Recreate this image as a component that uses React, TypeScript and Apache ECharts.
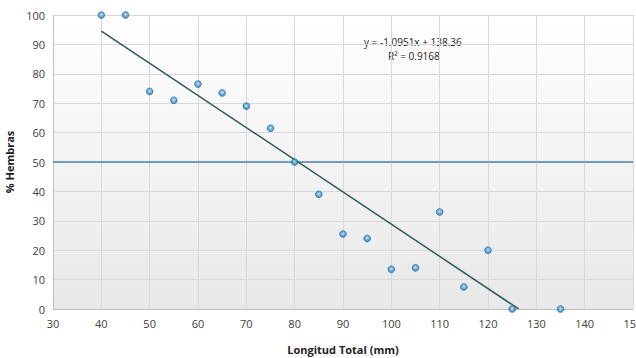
import React, { useEffect, useRef } from "react";
import * as echarts from "echarts";

const longitud = [40, 45, 50, 55, 60, 65, 70, 75, 80, 85, 90, 95, 100, 105, 110, 115, 120, 125, 135];
const hembras = [100, 100, 74, 71, 76.5, 73.5, 69, 61.5, 50, 39, 25.5, 24, 13.5, 14, 33, 7.5, 20, 0, 0];
const slope = -1.0951;
const intercept = 138.36;
const trendX = [40, 126.34];
const refLineY = 50;
const xTicks = { min: 30, max: 150, interval: 10 };
const yTicks = { min: 0, max: 100, interval: 10 };
const eqText = "y = -1.0951x + 138.36";
const r2Text = "R² = 0.9168";

export default function App() {
  const ref = useRef<HTMLDivElement>(null);
  useEffect(() => {
    const chart = echarts.init(ref.current!, null, { renderer: "svg" });
    const font = "'Open Sans', 'Liberation Sans', sans-serif";
    chart.setOption({
      animation: false,
      backgroundColor: "#ffffff",
      grid: {
        left: 53,
        right: 3,
        top: 15,
        bottom: 49,
        containLabel: false,
        outerBoundsMode: "none",
        show: true,
        borderWidth: 0,
        backgroundColor: new echarts.graphic.LinearGradient(0, 0, 0, 1, [
          { offset: 0, color: "#ffffff" },
          { offset: 1, color: "#e8e8e8" },
        ]),
      },
      xAxis: {
        type: "value",
        min: xTicks.min,
        max: xTicks.max,
        interval: xTicks.interval,
        name: "Longitud Total (mm)",
        nameLocation: "middle",
        nameGap: 35,
        nameTextStyle: { fontFamily: font, fontWeight: "bold", fontSize: 11, color: "#222" },
        axisLine: { show: true, lineStyle: { color: "#bfbfbf", width: 1 } },
        axisTick: { show: false },
        axisLabel: { fontFamily: font, fontSize: 11, color: "#404040", margin: 9 },
        splitLine: { show: true, lineStyle: { color: "#d9d9d9", width: 1 } },
      },
      yAxis: {
        type: "value",
        min: yTicks.min,
        max: yTicks.max,
        interval: yTicks.interval,
        name: "% Hembras",
        nameLocation: "middle",
        nameGap: 28,
        nameRotate: 90,
        nameTextStyle: { fontFamily: font, fontWeight: "bold", fontSize: 11, color: "#222" },
        axisLine: { show: true, lineStyle: { color: "#bfbfbf", width: 1 } },
        axisTick: { show: false },
        axisLabel: { fontFamily: font, fontSize: 11, color: "#404040", margin: 8 },
        splitLine: { show: true, lineStyle: { color: "#d9d9d9", width: 1 } },
      },
      series: [
        {
          type: "line",
          data: [[xTicks.min, refLineY], [xTicks.max, refLineY]],
          symbol: "none",
          lineStyle: { color: "#4a86ad", width: 1.5 },
          z: 2,
        },
        {
          type: "line",
          data: trendX.map((x) => [x, slope * x + intercept]),
          symbol: "none",
          lineStyle: { color: "#2d5c55", width: 1.5 },
          z: 3,
        },
        {
          type: "scatter",
          data: longitud.map((x, i) => [x, hembras[i]]),
          symbolSize: 7,
          itemStyle: {
            color: new echarts.graphic.RadialGradient(0.5, 0.45, 0.5, [
              { offset: 0, color: "#e3f2fb" },
              { offset: 0.45, color: "#5aa8dc" },
              { offset: 1, color: "#1a69a3" },
            ]),
            borderColor: "#1d6398",
            borderWidth: 0.5,
          },
          z: 5,
        },
      ],
      graphic: [
        {
          type: "text",
          left: 364,
          top: 37,
          style: { text: eqText, fontFamily: font, fontSize: 10, fill: "#222" },
        },
        {
          type: "text",
          left: 388,
          top: 51,
          style: { text: r2Text, fontFamily: font, fontSize: 10, fill: "#222" },
        },
      ],
    });
    return () => chart.dispose();
  }, []);
  return (
    <div
      ref={ref}
      style={{ position: "absolute", left: 0, top: 0, width: 636, height: 358 }}
    />
  );
}
